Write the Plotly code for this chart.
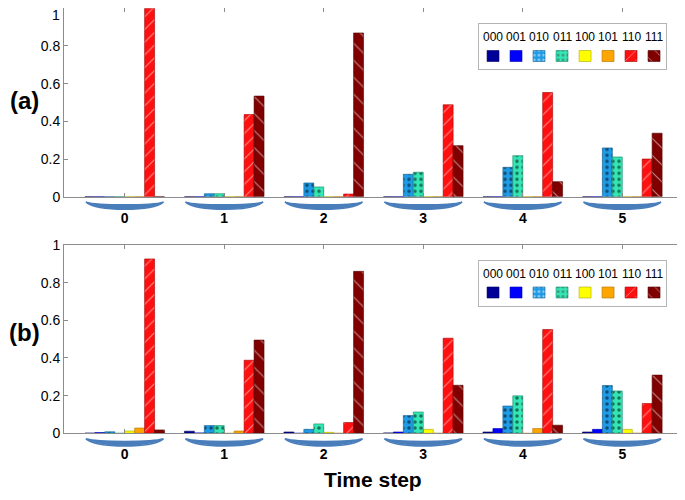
import plotly.graph_objects as go

# ---------------- data ----------------
steps = [0, 1, 2, 3, 4, 5]
states = ["000", "001", "010", "011", "100", "101", "110", "111"]

# panel (a)
a_000 = [0, 0, 0, 0, 0, 0]
a_001 = [0, 0, 0, 0, 0, 0]
a_010 = [0, 0.016, 0.073, 0.119, 0.156, 0.259]
a_011 = [0, 0.016, 0.052, 0.130, 0.218, 0.211]
a_100 = [0, 0, 0, 0, 0, 0]
a_101 = [0, 0, 0, 0, 0, 0]
a_110 = [1.0, 0.436, 0.014, 0.488, 0.553, 0.200]
a_111 = [0, 0.534, 0.869, 0.271, 0.080, 0.337]

# panel (b)
b_000 = [0.001, 0.011, 0.007, 0.002, 0.007, 0.007]
b_001 = [0.004, 0.002, 0.0, 0.007, 0.025, 0.021]
b_010 = [0.008, 0.041, 0.021, 0.094, 0.145, 0.254]
b_011 = [0.0, 0.041, 0.050, 0.113, 0.199, 0.225]
b_100 = [0.012, 0.0, 0.005, 0.021, 0.0, 0.021]
b_101 = [0.028, 0.012, 0.0, 0.0, 0.025, 0.0]
b_110 = [0.926, 0.388, 0.057, 0.505, 0.551, 0.158]
b_111 = [0.018, 0.495, 0.860, 0.255, 0.043, 0.309]

y_ticks = [0, 0.2, 0.4, 0.6, 0.8, 1]
y_ticktext = ["0", "0.2", "0.4", "0.6", "0.8", "1"]
x_title = "Time step"
panel_labels = ["(a)", "(b)"]

# ---------------- styles ----------------
colors = ["#000099", "#0000ff", "#1e9be6", "#33e6b3", "#ffff00", "#ffa500", "#ff1010", "#800000"]
edges = ["#000060", "#0000b0", "#105a8a", "#1a8a6a", "#a8a800", "#b07000", "#a00000", "#500000"]
pshape = ["", "", ".", ".", "", "", "/", "\\"]
pfg = ["black", "black", "black", "black", "black", "black", "white", "white"]
psize = [8, 8, 6, 6, 8, 8, 9, 12]
psolid = [0.3, 0.3, 0.28, 0.28, 0.3, 0.3, 0.12, 0.1]
sans = "Liberation Sans, Arial, sans-serif"

# page body has an 8px margin: lay the figure out in window pixels minus that offset
OFF = 8
W, H = 685 - OFF, 500 - OFF
def px(p):  # window pixel x -> paper
    return (p - OFF) / W
def py(p):  # window pixel y -> paper
    return 1 - (p - OFF) / H

fig = go.Figure()

panels = [
    ("x", "y", [a_000, a_001, a_010, a_011, a_100, a_101, a_110, a_111]),
    ("x2", "y2", [b_000, b_001, b_010, b_011, b_100, b_101, b_110, b_111]),
]
for xa, ya, series in panels:
    for i, vals in enumerate(series):
        fig.add_trace(go.Bar(
            x=steps, y=vals, xaxis=xa, yaxis=ya, name=states[i], showlegend=False,
            marker=dict(color=colors[i], line=dict(color=edges[i], width=0.6),
                        pattern=dict(shape=pshape[i], fgcolor=pfg[i], size=psize[i],
                                     solidity=psolid[i], fillmode="overlay")),
        ))

# legend insets as small bar charts
leg_idx = list(range(len(states)))
for xa, ya in [("x3", "y3"), ("x4", "y4")]:
    fig.add_trace(go.Bar(
        x=leg_idx, y=[11] * len(states), base=[7.5] * len(states), width=0.52,
        xaxis=xa, yaxis=ya, showlegend=False, hoverinfo="skip",
        marker=dict(color=colors, line=dict(color=edges, width=0.6),
                    pattern=dict(shape=pshape, fgcolor=pfg, size=[s * 0.8 for s in psize],
                                 solidity=psolid, fillmode="overlay")),
    ))
    for i, s in enumerate(states):
        fig.add_annotation(x=i, y=32, xref=xa, yref=ya, text=s, showarrow=False,
                           xanchor="center", yanchor="middle",
                           font=dict(size=12, color="black", family=sans))

frame = "#8c8c8c"
xdom = [px(64), px(682)]
a_top, a_bot = 8.3, 196.7
b_top, b_bot = 245.0, 433.3

common_x = dict(range=[-0.61, 5.6], showgrid=False, zeroline=False, showline=True, linecolor=frame,
                linewidth=1, mirror="ticks", ticks="inside", ticklen=4, tickcolor=frame,
                tickvals=steps, ticktext=[f"<b>{s}</b>" for s in steps], ticklabelstandoff=8,
                automargin=False,
                tickfont=dict(size=14, color="black", family=sans))
common_y = dict(range=[0, 1], showgrid=False, zeroline=False, showline=True, linecolor=frame,
                linewidth=1, mirror="ticks", ticks="inside", ticklen=4, tickcolor=frame,
                tickvals=y_ticks, automargin=False,
                tickfont=dict(size=14, color="black", family=sans))

# top panel: its "1" label would sit above the page edge, so it is drawn as a note just below
a_ticktext = y_ticktext[:-1] + [""]

fig.update_layout(
    width=W, height=H, margin=dict(l=0, r=0, t=0, b=0, autoexpand=False),
    paper_bgcolor="white", plot_bgcolor="white",
    barmode="group", bargap=0.2, bargroupgap=0,
    xaxis=dict(domain=xdom, anchor="y", **common_x),
    yaxis=dict(domain=[py(a_bot), py(a_top)], anchor="x", ticktext=a_ticktext, **common_y),
    xaxis2=dict(domain=xdom, anchor="y2", **common_x),
    yaxis2=dict(domain=[py(b_bot), py(b_top)], anchor="x2", ticktext=y_ticktext, **common_y),
)
fig.add_annotation(x=px(62), y=py(15), xref="paper", yref="paper", text=y_ticktext[-1],
                   showarrow=False, xanchor="right", yanchor="middle",
                   font=dict(size=14, color="black", family=sans))

# legend inset axes
inset = dict(showgrid=False, zeroline=False, showticklabels=False, ticks="", automargin=False,
             showline=True, linecolor="#b4b4b4", linewidth=1, mirror=True, fixedrange=True)
lx0, lx1 = 479, 666
fig.update_layout(
    xaxis3=dict(domain=[px(lx0), px(lx1)], range=[-0.61, 7.52], anchor="y3", **inset),
    yaxis3=dict(domain=[py(69), py(24)], range=[0, 45], anchor="x3", **inset),
    xaxis4=dict(domain=[px(lx0), px(lx1)], range=[-0.61, 7.52], anchor="y4", **inset),
    yaxis4=dict(domain=[py(69 + 236.5), py(24 + 236.5)], range=[0, 45], anchor="x4", **inset),
)

# braces under each group
brace_col = "#4a7ebb"
for xa, base in [("x", a_bot), ("x2", b_bot)]:
    tip = base + 5.5
    inner = base + 9.0
    outer = base + 15.0
    for g in steps:
        xl, xr = g - 0.39, g + 0.39
        c1, c2 = g - 0.27, g + 0.27
        path = (f"M {xl},{py(tip)} C {c1},{py(outer)} {c2},{py(outer)} {xr},{py(tip)} "
                f"C {c2},{py(inner)} {c1},{py(inner)} {xl},{py(tip)} Z")
        fig.add_shape(type="path", path=path, xref=xa, yref="paper",
                      fillcolor=brace_col, line=dict(color=brace_col, width=1.5))

# panel labels and x title
for lab, yc in zip(panel_labels, [100, 332]):
    fig.add_annotation(x=px(24), y=py(yc), xref="paper", yref="paper", text=f"<b>{lab}</b>",
                       showarrow=False, xanchor="center", yanchor="middle",
                       font=dict(size=24, color="black", family=sans))
fig.add_annotation(x=px(373), y=py(479), xref="paper", yref="paper", text=f"<b>{x_title}</b>",
                   showarrow=False, xanchor="center", yanchor="middle",
                   font=dict(size=21, color="black", family=sans))

fig.write_html("out.html")
